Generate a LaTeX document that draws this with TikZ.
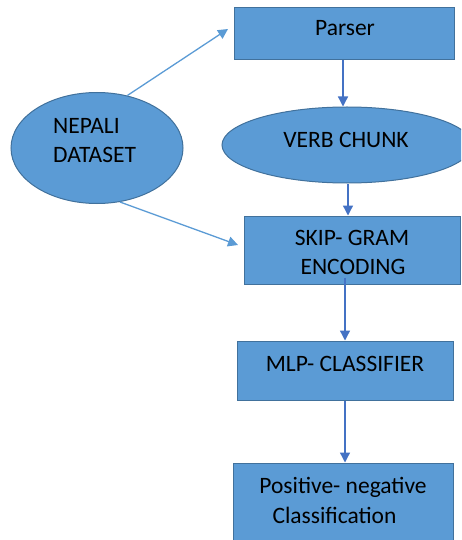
\documentclass[tikz,border=0pt]{standalone}
\usepackage{fontspec}
\setmainfont{Carlito}
\usetikzlibrary{shapes.geometric,arrows.meta}
\definecolor{boxfill}{HTML}{5B9BD5}
\definecolor{boxline}{HTML}{41719C}
\definecolor{arrdark}{HTML}{4472C4}
\definecolor{arrlight}{HTML}{5B9BD5}
\tikzset{
  shapebox/.style={draw=boxline, fill=boxfill, line width=1pt, rectangle, inner sep=0pt},
  shapeell/.style={draw=boxline, fill=boxfill, line width=1pt, ellipse, inner sep=0pt},
  txt/.style={anchor=base, inner sep=0pt, font=\fontsize{23.5}{29}\selectfont},
  darrow/.style={draw=arrdark, line width=1.3pt, -{Triangle[length=10pt,width=10pt]}},
  larrow/.style={draw=arrlight, line width=1.3pt, -{Triangle[length=10pt,width=10pt]}}
}
\begin{document}
\begin{tikzpicture}[x=1pt,y=-1pt]
\useasboundingbox (0,0) rectangle (461,540);
\clip (0,0) rectangle (461,540);
% shapes
\node[shapebox, minimum width=220pt, minimum height=52pt] (parser) at (344,34) {};
\node[shapeell, minimum width=250pt, minimum height=76pt] (verb) at (347,145) {};
\node[shapeell, minimum width=172pt, minimum height=111pt] (nep) at (97,148) {};
\node[shapebox, minimum width=216pt, minimum height=68pt] (skip) at (352,250) {};
\node[shapebox, minimum width=216pt, minimum height=59pt] (mlp) at (345,370.5) {};
\node[shapebox, minimum width=220pt, minimum height=90pt] (pos) at (343,508) {};
% texts
\node[txt] (tparser) at (345,36) {Parser};
\node[txt] (tverb) at (346,148) {VERB CHUNK};
\node[txt, anchor=base west] (tnep1) at (53,134) {NEPALI};
\node[txt, anchor=base west] (tnep2) at (53,163) {DATASET};
\node[txt] (tskip1) at (352,245) {SKIP- GRAM};
\node[txt] (tskip2) at (353,274) {ENCODING};
\node[txt] (tmlp) at (345,371) {MLP- CLASSIFIER};
\node[txt] (tpos1) at (343,493) {Positive- negative};
\node[txt] (tpos2) at (334.5,523) {Classification};
% connectors
\coordinate (e1) at (228,29);
\coordinate (e2) at (238,245);
\draw[larrow] (nep.60) -- (e1);
\draw[larrow] (nep.-67) -- (e2);
\draw[darrow] ([xshift=-1pt]parser.south) -- ([xshift=-1pt]parser.south |- verb.north);
\draw[darrow] ([xshift=1pt]verb.south) -- ([xshift=1pt]verb.south |- skip.north);
\draw[darrow] ([yshift=7pt]mlp.north |- skip.south) -- (mlp.north);
\draw[darrow] (mlp.south) -- (mlp.south |- pos.north);
\end{tikzpicture}
\end{document}
